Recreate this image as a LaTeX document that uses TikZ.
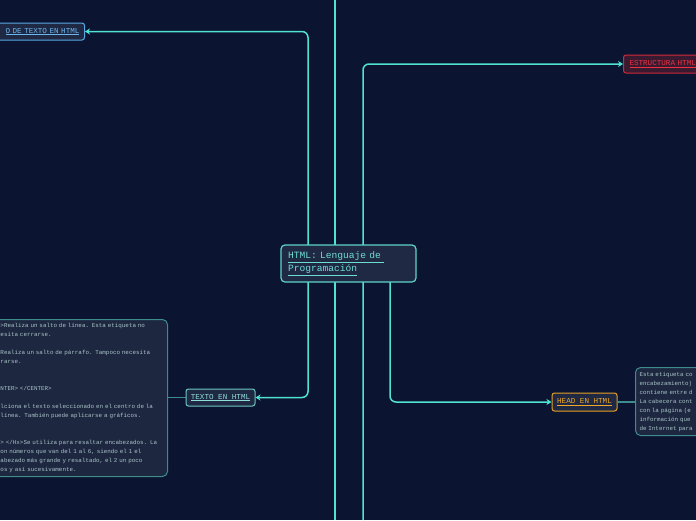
\documentclass[tikz,border=0pt]{standalone}
\usepackage{fontspec}
\newfontfamily\monof{Liberation Mono}
\usetikzlibrary{arrows.meta}
\definecolor{bg}{HTML}{0B1430}
\definecolor{conncol}{HTML}{4FE3D3}
\definecolor{boxfill}{HTML}{1F2944}
\definecolor{centerborder}{HTML}{5FD3C8}
\definecolor{centertext}{HTML}{6FDCD2}
\definecolor{blueborder}{HTML}{58A8E4}
\definecolor{bluetext}{HTML}{6CB6EE}
\definecolor{redborder}{HTML}{D02A3A}
\definecolor{redfill}{HTML}{3A1A30}
\definecolor{redtext}{HTML}{EC3040}
\definecolor{tealborder}{HTML}{6CC9C2}
\definecolor{tealtext}{HTML}{8EDDD6}
\definecolor{orangeborder}{HTML}{E8A024}
\definecolor{orangetext}{HTML}{F0A828}
\definecolor{noteborder}{HTML}{3F8C8C}
\definecolor{notefill}{HTML}{1E2740}
\definecolor{notetext}{HTML}{A8C4C8}
\pgfdeclarelayer{back}
\pgfsetlayers{back,main}
\tikzset{
  conn/.style={draw=conncol, line width=1.5pt, rounded corners=6pt},
  arr/.style={-{Stealth[length=5pt,width=6pt]}},
  labelbox/.style={rectangle, rounded corners=2.5pt, line width=1pt, inner sep=0pt, font=\monof\fontsize{7.6}{9}\selectfont},
  notebox/.style={rectangle, rounded corners=5pt, line width=1pt, draw=noteborder, fill=notefill, text=notetext, inner sep=0pt, align=left, font=\monof\fontsize{5.85}{9}\selectfont}
}
\begin{document}
\begin{tikzpicture}[x=1pt,y=-1pt]
\useasboundingbox (0,0) rectangle (696,520);
\clip (0,0) rectangle (696,520);
\begin{pgfonlayer}{back}
\fill[bg] (0,0) rectangle (696,520);
\end{pgfonlayer}

% central node
\node[labelbox, draw=centerborder, fill=boxfill, text=centertext, rounded corners=4pt, line width=1.2pt,
  minimum width=135pt, minimum height=37pt, align=left, text width=121pt,
  font=\monof\fontsize{9.6}{13}\selectfont] (main) at (348.5,263.5)
  {\underline{HTML: Lenguaje de }\\\underline{Programación}};

% top-left
\node[labelbox, draw=blueborder, fill=boxfill, text=bluetext, minimum width=120pt, minimum height=17pt,
  anchor=east, align=right, text width=110pt] (fmt) at (85,31.5) {\underline{O DE TEXTO EN HTML}};

% top-right
\node[labelbox, draw=redborder, fill=redfill, text=redtext, minimum width=100pt, minimum height=18pt,
  anchor=west, align=left, text width=88pt] (estr) at (623,64) {\underline{ESTRUCTURA HTML}};

% texto en html
\node[labelbox, draw=tealborder, fill=boxfill, text=tealtext, minimum width=69pt, minimum height=17pt] (texto) at (220.5,397.5) {\underline{TEXTO EN HTML}};

% head en html
\node[labelbox, draw=orangeborder, fill=boxfill, text=orangetext, minimum width=65pt, minimum height=18pt] (head) at (584.5,402) {\underline{HEAD EN HTML}};

% left note
\node[notebox, anchor=north west, minimum width=180pt, minimum height=157pt, text width=180pt] (lnote) at (-13,319) {%
\hspace*{13pt}>Realiza un salto de línea. Esta etiqueta no\\
\hspace*{13pt}esita cerrarse.\\
\mbox{}\\
\hspace*{13pt}Realiza un salto de párrafo. Tampoco necesita\\
\hspace*{13pt}rarse.\\
\mbox{}\\
\mbox{}\\
\hspace*{13pt}NTER> </CENTER>\\
\mbox{}\\
\hspace*{13pt}lciona el texto seleccionado en el centro de la\\
\hspace*{13pt}línea. También puede aplicarse a gráficos.\\
\mbox{}\\
\mbox{}\\
\hspace*{13pt}> </Hx>Se utiliza para resaltar encabezados. La\\
\hspace*{13pt}on números que van del 1 al 6, siendo el 1 el\\
\hspace*{13pt}abezado más grande y resaltado, el 2 un poco\\
\hspace*{13pt}os y así sucesivamente.};

% right note
\node[notebox, anchor=north west, minimum width=90pt, minimum height=68pt, text width=90pt] (rnote) at (635,367) {%
\hspace*{4pt}Esta etiqueta co\\
\hspace*{4pt}encabezamiento) \\
\hspace*{4pt}contiene entre d\\
\hspace*{4pt}La cabecera cont\\
\hspace*{4pt}con la página (e\\
\hspace*{4pt}información que \\
\hspace*{4pt}de Internet para};

\coordinate (ltop) at (335,0);
\coordinate (lbot) at (335,520);
\coordinate (rbot) at (363,520);
\coordinate (lj) at (308,263.5);
\coordinate (rj) at (390,263.5);

\begin{pgfonlayer}{back}
\draw[conn] (ltop) -- (lbot);
\draw[conn, arr] (rbot) |- (estr.west);
\draw[conn, arr] (lj) |- (fmt.east);
\draw[conn, arr] (lj) |- (texto.east);
\draw[conn, arr] (rj) |- (head.west);
\draw[draw=noteborder, line width=1.2pt] (lnote.east |- texto.west) -- (texto.west);
\draw[draw=noteborder, line width=1.2pt] (head.east) -- (rnote.west |- head.east);
\end{pgfonlayer}
\end{tikzpicture}
\end{document}
